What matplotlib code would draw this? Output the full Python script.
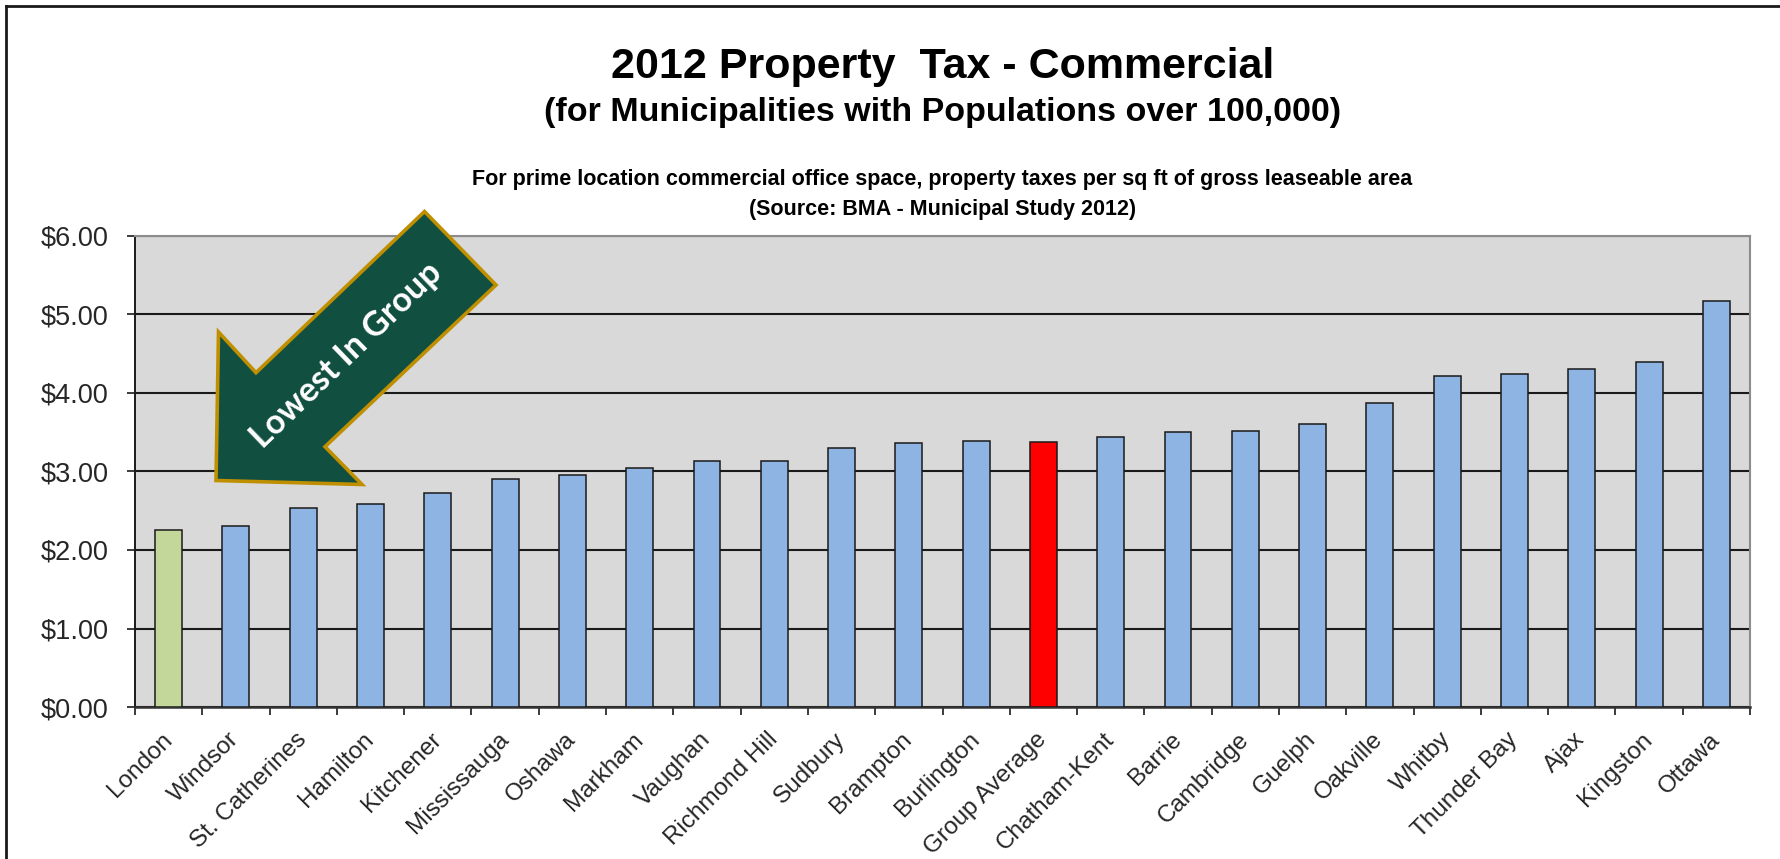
import matplotlib
matplotlib.use('Agg')
import matplotlib.pyplot as plt
from matplotlib.patches import Polygon
from matplotlib.lines import Line2D
from matplotlib.ticker import FuncFormatter, FixedLocator

plt.rcParams['font.family'] = ['Liberation Sans', 'DejaVu Sans']

cities = ['London', 'Windsor', 'St. Catherines', 'Hamilton', 'Kitchener',
          'Mississauga', 'Oshawa', 'Markham', 'Vaughan', 'Richmond Hill',
          'Sudbury', 'Brampton', 'Burlington', 'Group Average', 'Chatham-Kent',
          'Barrie', 'Cambridge', 'Guelph', 'Oakville', 'Whitby', 'Thunder Bay',
          'Ajax', 'Kingston', 'Ottawa']
tax_per_sqft = [2.26, 2.30, 2.54, 2.59, 2.72, 2.90, 2.96, 3.04, 3.13, 3.13,
                3.30, 3.36, 3.39, 3.38, 3.44, 3.50, 3.52, 3.60, 3.87, 4.22,
                4.24, 4.31, 4.39, 5.17]

BLUE = '#8EB4E3'
GREEN = '#C4D79B'
RED = '#FF0000'

colors = []
for name in cities:
    if name == 'London':
        colors.append(GREEN)
    elif name == 'Group Average':
        colors.append(RED)
    else:
        colors.append(BLUE)

W, H = 1780, 859
fig = plt.figure(figsize=(W / 100, H / 100), dpi=100)
fig.patch.set_facecolor('white')

# plot area in pixels: left 135, right 1750, top 236, bottom 707
ax = fig.add_axes([135 / W, 1 - 707 / H, (1750 - 135) / W, (707 - 236) / H])
ax.set_facecolor('#D9D9D9')

x = list(range(len(cities)))
ax.bar(x, tax_per_sqft, width=0.4, color=colors, edgecolor='#1a1a1a',
       linewidth=1.1, zorder=3)

ax.set_xlim(-0.5, len(cities) - 0.5)
ax.set_ylim(0, 6)
ax.set_yticks([0, 1, 2, 3, 4, 5, 6])
ax.yaxis.set_major_formatter(FuncFormatter(lambda v, p: f'${v:.2f}'))
ax.grid(axis='y', color='#1a1a1a', linewidth=1.5, zorder=1)
ax.set_axisbelow(True)

ax.set_xticks(x)
ax.set_xticklabels(cities, rotation=45, ha='right', va='center',
                   rotation_mode='anchor', fontsize=17.5, color='#262626')
ax.xaxis.set_minor_locator(FixedLocator([i - 0.5 for i in range(len(cities) + 1)]))
ax.tick_params(axis='x', which='major', length=0, pad=21)
ax.tick_params(axis='x', which='minor', length=6, width=1.2, color='#1a1a1a',
               direction='out')
ax.tick_params(axis='y', length=6, width=1.2, color='#1a1a1a', pad=13,
               labelsize=19.5, labelcolor='#262626')

for side in ('top', 'right'):
    ax.spines[side].set_color('#8c8c8c')
    ax.spines[side].set_linewidth(1.5)
ax.spines['left'].set_color('#1a1a1a')
ax.spines['left'].set_linewidth(1.4)
ax.spines['bottom'].set_color('#333333')
ax.spines['bottom'].set_linewidth(1.8)

# titles, centred over the plot area
cx = (135 + 1750) / 2 / W
fig.text(cx, 1 - 67 / H, '2012 Property  Tax - Commercial', ha='center',
         va='center', fontsize=31, fontweight='bold')
fig.text(cx, 1 - 112 / H, '(for Municipalities with Populations over 100,000)',
         ha='center', va='center', fontsize=24.5, fontweight='bold')
fig.text(cx, 1 - 180 / H,
         'For prime location commercial office space, property taxes per sq ft '
         'of gross leaseable area',
         ha='center', va='center', fontsize=15.5, fontweight='bold')
fig.text(cx, 1 - 210 / H, '(Source: BMA - Municipal Study 2012)',
         ha='center', va='center', fontsize=15.5, fontweight='bold')

# block arrow pointing at the lowest bar
arrow_px = [(424.5, 211.5), (496, 285), (325, 446.7), (362, 484.5),
            (216, 480.5), (218.5, 332), (256, 372.7)]
arrow = Polygon([(px / W, 1 - py / H) for px, py in arrow_px], closed=True,
                transform=fig.transFigure, facecolor='#114F41',
                edgecolor='#BF8F00', linewidth=2.6, zorder=10)
fig.add_artist(arrow)
fig.text(346 / W, 1 - 355 / H, 'Lowest In Group', rotation=44, ha='center',
         va='center', rotation_mode='anchor', color='white', fontsize=24.5,
         fontweight='bold', family=['Lato', 'DejaVu Sans'], zorder=11)

# frame along the top and left edges
fig.add_artist(Line2D([6 / W, 1], [1 - 6 / H, 1 - 6 / H], color='#1a1a1a',
                      linewidth=2, transform=fig.transFigure))
fig.add_artist(Line2D([6 / W, 6 / W], [0, 1 - 6 / H], color='#1a1a1a',
                      linewidth=2, transform=fig.transFigure))

fig.savefig('out.png', dpi=100)
